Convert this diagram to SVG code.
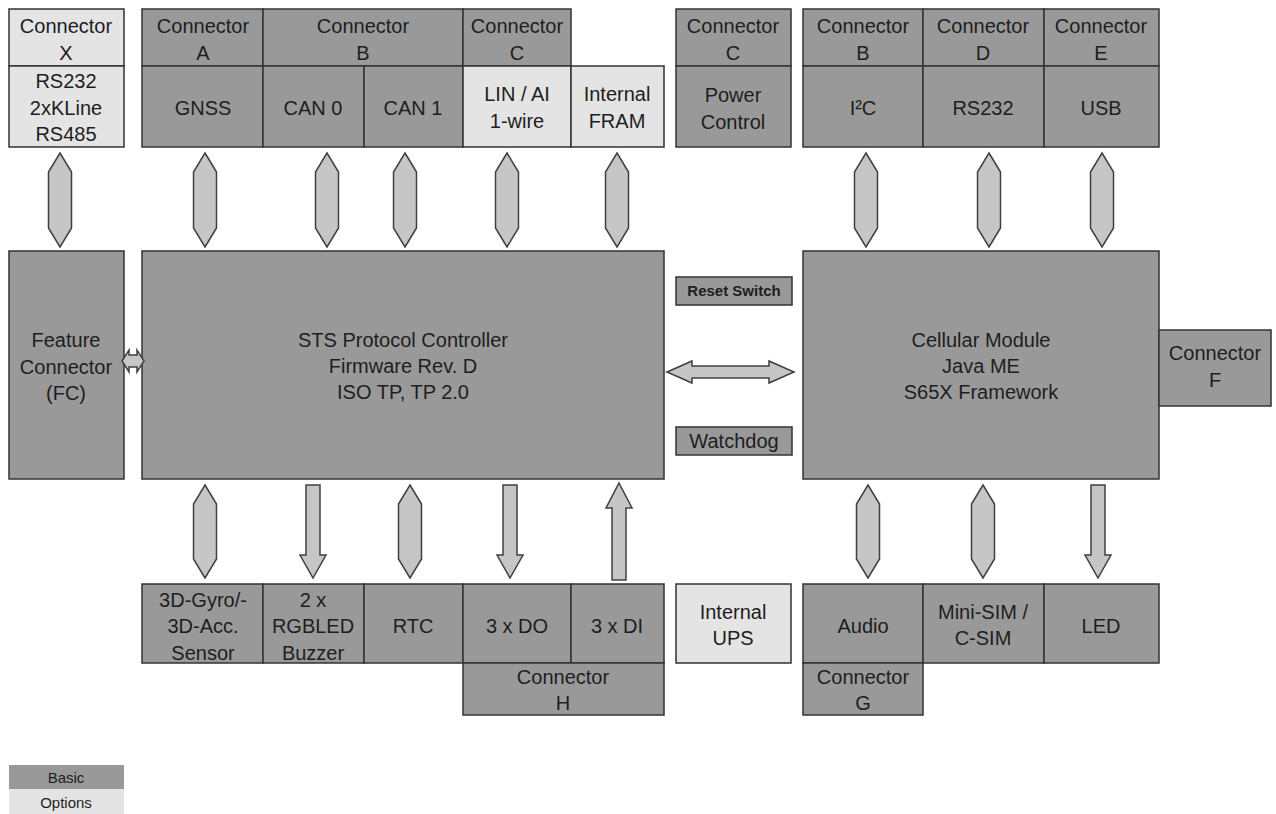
<svg xmlns="http://www.w3.org/2000/svg" width="1276" height="814" viewBox="0 0 1276 814">
<style>
.d{fill:#999999;stroke:#333333;stroke-width:1.5}
.l{fill:#e4e4e4;stroke:#333333;stroke-width:1.5}
.a{fill:#c6c6c6;stroke:#404040;stroke-width:1.5;stroke-linejoin:miter}
text{font-family:"Liberation Sans",Arial,sans-serif;font-size:20px;fill:#1e1e1e;text-anchor:middle}
.s{font-size:15px}
.b{font-size:15px;font-weight:bold}
</style>
<rect width="1276" height="814" fill="#ffffff"/>

<g id="connX">
<rect class="l" x="9" y="9" width="115" height="57"/>
<text x="66" y="33">Connector</text><text x="66" y="60">X</text>
</g>
<g id="serialX">
<rect class="l" x="9" y="66" width="115" height="81"/>
<text x="66" y="88">RS232</text><text x="66" y="115">2xKLine</text><text x="66" y="141">RS485</text>
</g>
<g id="connA">
<rect class="d" x="142" y="9" width="121" height="57"/>
<text x="203" y="33">Connector</text><text x="203" y="60">A</text>
</g>
<g id="gnss">
<rect class="d" x="142" y="66" width="121" height="81"/>
<text x="203" y="115">GNSS</text>
</g>
<g id="connB">
<rect class="d" x="263" y="9" width="200" height="57"/>
<text x="363" y="33">Connector</text><text x="363" y="60">B</text>
</g>
<g id="can0">
<rect class="d" x="263" y="66" width="101" height="81"/>
<text x="313" y="115">CAN 0</text>
</g>
<g id="can1">
<rect class="d" x="364" y="66" width="99" height="81"/>
<text x="413" y="115">CAN 1</text>
</g>
<g id="connC1">
<rect class="d" x="463" y="9" width="108" height="57"/>
<text x="517" y="33">Connector</text><text x="517" y="60">C</text>
</g>
<g id="lin">
<rect class="l" x="463" y="66" width="108" height="81"/>
<text x="517" y="101">LIN / AI</text><text x="517" y="128">1-wire</text>
</g>
<g id="fram">
<rect class="l" x="571" y="66" width="93" height="81"/>
<text x="617" y="101">Internal</text><text x="617" y="128">FRAM</text>
</g>
<g id="connC2">
<rect class="d" x="676" y="9" width="115" height="57"/>
<text x="733" y="33">Connector</text><text x="733" y="60">C</text>
</g>
<g id="power">
<rect class="d" x="676" y="66" width="115" height="81"/>
<text x="733" y="102">Power</text><text x="733" y="129">Control</text>
</g>
<g id="connB2">
<rect class="d" x="803" y="9" width="120" height="57"/>
<text x="863" y="33">Connector</text><text x="863" y="60">B</text>
</g>
<g id="i2c">
<rect class="d" x="803" y="66" width="120" height="81"/>
<text x="863" y="115">I²C</text>
</g>
<g id="connD">
<rect class="d" x="923" y="9" width="121" height="57"/>
<text x="983" y="33">Connector</text><text x="983" y="60">D</text>
</g>
<g id="rs232">
<rect class="d" x="923" y="66" width="121" height="81"/>
<text x="983" y="115">RS232</text>
</g>
<g id="connE">
<rect class="d" x="1044" y="9" width="115" height="57"/>
<text x="1101" y="33">Connector</text><text x="1101" y="60">E</text>
</g>
<g id="usb">
<rect class="d" x="1044" y="66" width="115" height="81"/>
<text x="1101" y="115">USB</text>
</g>

<g id="feature">
<rect class="d" x="9" y="251" width="115" height="228"/>
<text x="66" y="347">Feature</text><text x="66" y="374">Connector</text><text x="66" y="400">(FC)</text>
</g>
<g id="sts">
<rect class="d" x="142" y="251" width="522" height="228"/>
<text x="403" y="347">STS Protocol Controller</text><text x="403" y="373">Firmware Rev. D</text><text x="403" y="399">ISO TP, TP 2.0</text>
</g>
<g id="reset">
<rect class="d" x="676" y="277" width="116" height="28"/>
<text class="b" x="734" y="296">Reset Switch</text>
</g>
<g id="watchdog">
<rect class="d" x="676" y="427" width="116" height="28"/>
<text x="734" y="448">Watchdog</text>
</g>
<g id="cellular">
<rect class="d" x="803" y="251" width="356" height="228"/>
<text x="981" y="347">Cellular Module</text><text x="981" y="373">Java ME</text><text x="981" y="399">S65X Framework</text>
</g>
<g id="connF">
<rect class="d" x="1159" y="330" width="112" height="76"/>
<text x="1215" y="360">Connector</text><text x="1215" y="387">F</text>
</g>

<g id="gyro">
<rect class="d" x="142" y="584" width="121" height="79"/>
<text x="203" y="607">3D-Gyro/-</text><text x="203" y="633">3D-Acc.</text><text x="203" y="660">Sensor</text>
</g>
<g id="rgbled">
<rect class="d" x="263" y="584" width="101" height="79"/>
<text x="313" y="607">2 x</text><text x="313" y="633">RGBLED</text><text x="313" y="660">Buzzer</text>
</g>
<g id="rtc">
<rect class="d" x="364" y="584" width="99" height="79"/>
<text x="413" y="633">RTC</text>
</g>
<g id="do">
<rect class="d" x="463" y="584" width="108" height="79"/>
<text x="517" y="633">3 x DO</text>
</g>
<g id="di">
<rect class="d" x="571" y="584" width="93" height="79"/>
<text x="617" y="633">3 x DI</text>
</g>
<g id="connH">
<rect class="d" x="463" y="663" width="201" height="52"/>
<text x="563" y="684">Connector</text><text x="563" y="710">H</text>
</g>
<g id="ups">
<rect class="l" x="676" y="584" width="115" height="79"/>
<text x="733" y="619">Internal</text><text x="733" y="645">UPS</text>
</g>
<g id="audio">
<rect class="d" x="803" y="584" width="120" height="79"/>
<text x="863" y="633">Audio</text>
</g>
<g id="sim">
<rect class="d" x="923" y="584" width="121" height="79"/>
<text x="983" y="619">Mini-SIM /</text><text x="983" y="645">C-SIM</text>
</g>
<g id="led">
<rect class="d" x="1044" y="584" width="115" height="79"/>
<text x="1101" y="633">LED</text>
</g>
<g id="connG">
<rect class="d" x="803" y="663" width="120" height="52"/>
<text x="863" y="684">Connector</text><text x="863" y="710">G</text>
</g>

<g id="connectors">
<polygon class="a" points="60,153 71.5,172 71.5,228 60,247 48.5,228 48.5,172"/>
<polygon class="a" points="205,153 216.5,172 216.5,228 205,247 193.5,228 193.5,172"/>
<polygon class="a" points="327,153 338.5,172 338.5,228 327,247 315.5,228 315.5,172"/>
<polygon class="a" points="405,153 416.5,172 416.5,228 405,247 393.5,228 393.5,172"/>
<polygon class="a" points="507,153 518.5,172 518.5,228 507,247 495.5,228 495.5,172"/>
<polygon class="a" points="617,153 628.5,172 628.5,228 617,247 605.5,228 605.5,172"/>
<polygon class="a" points="866,153 877.5,172 877.5,228 866,247 854.5,228 854.5,172"/>
<polygon class="a" points="989,153 1000.5,172 1000.5,228 989,247 977.5,228 977.5,172"/>
<polygon class="a" points="1102,153 1113.5,172 1113.5,228 1102,247 1090.5,228 1090.5,172"/>
<polygon class="a" points="205,485 216.5,504 216.5,559 205,578 193.5,559 193.5,504"/>
<polygon class="a" points="410,485 421.5,504 421.5,559 410,578 398.5,559 398.5,504"/>
<polygon class="a" points="868,485 879.5,504 879.5,559 868,578 856.5,559 856.5,504"/>
<polygon class="a" points="983,485 994.5,504 994.5,559 983,578 971.5,559 971.5,504"/>
<path class="a" d="M306,485 H320 V555 H326 L313,578 L300,555 H306 Z"/>
<path class="a" d="M503,485 H517 V555 H523 L510,578 L497,555 H503 Z"/>
<path class="a" d="M619,483 L632,508 H626 V580 H612 V508 H606 Z"/>
<path class="a" d="M1091,485 H1105 V555 H1111 L1098,578 L1085,555 H1091 Z"/>
<path class="a" d="M667,372 L692,361 V366 H769 V361 L794,372 L769,383 V378 H692 V383 Z"/>
<path class="a" d="M122,361 L129,350 V355 H137 V350 L144,361 L137,372 V367 H129 V372 Z"/>
</g>

<g id="legend">
<rect x="9" y="765" width="115" height="24" fill="#999999"/>
<text class="s" x="66" y="783">Basic</text>
<rect x="9" y="789" width="115" height="25" fill="#e4e4e4"/>
<text class="s" x="66" y="808">Options</text>
</g>
</svg>
